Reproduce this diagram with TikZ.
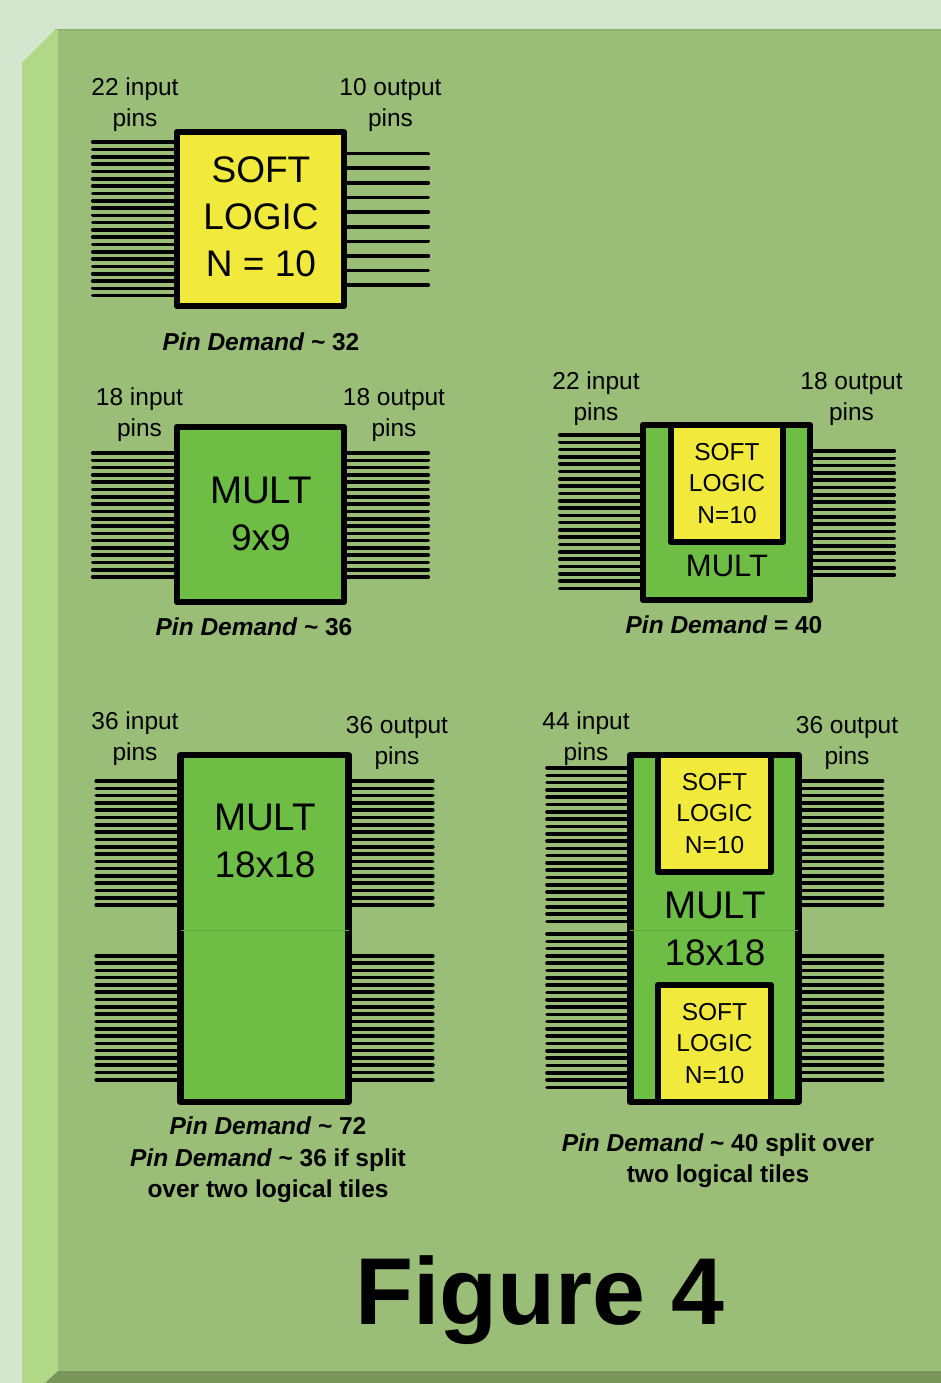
\documentclass[tikz,border=0pt]{standalone}
\usepackage{fontspec}
\setmainfont{Liberation Sans}
\definecolor{pageback}{HTML}{D2E7CD}
\definecolor{panelgreen}{HTML}{9ABE77}
\definecolor{panelleft}{HTML}{B1D886}
\definecolor{panelbottom}{HTML}{78955A}
\definecolor{paneltop}{HTML}{8FB36C}
\definecolor{multgreen}{HTML}{6EBE45}
\definecolor{softyellow}{HTML}{F1EA3C}
\definecolor{splitgreen}{HTML}{5EA53A}
\newcommand{\multword}{\fontsize{38.5}{47}\selectfont MULT}
\tikzset{
    blockbox/.style={draw=black, line width=6.6pt, line join=round, inner sep=0pt, align=center},
    softbig/.style={blockbox, fill=softyellow},
    softsmall/.style={blockbox, fill=softyellow, font=\fontsize{24.5}{31.5}\selectfont},
    multbox/.style={blockbox, fill=multgreen},
    bigtext/.style={inner sep=0pt, align=center, font=\fontsize{37}{47}\selectfont},
    pintext/.style={inner sep=0pt, align=center, font=\fontsize{24.5}{31}\selectfont},
    demandtext/.style={inner sep=0pt, align=center, font=\fontsize{24.5}{31.5}\selectfont\bfseries},
    pin/.style={line width=3.6pt, line cap=round, black},
    splitline/.style={line width=0.8pt, splitgreen, shorten <=3.3pt, shorten >=3.3pt}
}
\begin{document}
\begin{tikzpicture}[x=1pt, y=-1pt]
    \useasboundingbox (0, 0) rectangle (941, 1383);

    % 1. Background panel with its bevel
    \fill[pageback] (0, 0) rectangle (941, 1383);
    \fill[panelgreen] (58, 30) rectangle (941, 1371);
    \fill[paneltop] (55, 29) rectangle (941, 31);
    \fill[panelleft] (22, 63) -- (55, 30) -- (58, 30) -- (58, 1371) -- (45, 1383) -- (22, 1383) -- cycle;
    \fill[panelbottom] (45, 1383) -- (58, 1371) -- (941, 1371) -- (941, 1383) -- cycle;

    % 2. Soft logic block, N = 10
    \node[softbig, minimum width=167pt, minimum height=174pt] (softA) at (260.5, 219) {};
    \node[bigtext] (softAtext) at (261, 217) {SOFT\\LOGIC\\N = 10};
    \foreach \i in {0,...,21}
        \draw[pin] (softA.west |- 0,142.3+7.3*\i) -- ++(-81, 0);
    \foreach \i in {0,...,9}
        \draw[pin] (softA.east |- 0,153.7+14.6*\i) -- ++(81, 0);
    \node[pintext] (inA) at (135, 105) {22 input\\pins};
    \node[pintext] (outA) at (390.5, 105) {10 output\\pins};
    \node[demandtext] (demandA) at (261, 342) {\itshape Pin Demand {\upshape\textasciitilde{} 32}};

    % 3. Multiplier 9x9
    \node[multbox, minimum width=167pt, minimum height=175pt] (multB) at (260.5, 514.5) {};
    \node[bigtext] (multBtext) at (261, 513.5) {{\multword}\\9x9};
    \foreach \i in {0,...,17} {
        \draw[pin] (multB.west |- 0,453+7.3*\i) -- ++(-81, 0);
        \draw[pin] (multB.east |- 0,453+7.3*\i) -- ++(81, 0);
    }
    \node[pintext] (inB) at (139.5, 415) {18 input\\pins};
    \node[pintext] (outB) at (394, 415) {18 output\\pins};
    \node[demandtext] (demandB) at (254, 627) {\itshape Pin Demand {\upshape\textasciitilde{} 36}};

    % 4. Multiplier with soft logic inside
    \node[multbox, minimum width=167pt, minimum height=175pt] (multC) at (726.5, 512.5) {};
    \node[softsmall, minimum width=112pt, minimum height=117pt] (softC) at (727, 483.5) {SOFT\\LOGIC\\N=10};
    \node[pintext, font=\fontsize{31}{31}\selectfont] (multCtext) at (727, 566) {MULT};
    \foreach \i in {0,...,21}
        \draw[pin] (multC.west |- 0,435+7.3*\i) -- ++(-80, 0);
    \foreach \i in {0,...,17}
        \draw[pin] (multC.east |- 0,451+7.3*\i) -- ++(81, 0);
    \node[pintext] (inC) at (596, 399) {22 input\\pins};
    \node[pintext] (outC) at (851.5, 399) {18 output\\pins};
    \node[demandtext] (demandC) at (724, 625) {\itshape Pin Demand {\upshape = 40}};

    % 5. Multiplier 18x18
    \node[multbox, minimum width=168pt, minimum height=347pt] (multD) at (264.5, 928.5) {};
    \draw[splitline] (multD.west |- 0,930) -- (multD.east |- 0,930);
    \node[bigtext] (multDtext) at (265, 841) {{\multword}\\18x18};
    \foreach \i in {0,...,17} {
        \draw[pin] (multD.west |- 0,781+7.3*\i) -- ++(-81, 0);
        \draw[pin] (multD.east |- 0,781+7.3*\i) -- ++(81, 0);
        \draw[pin] (multD.west |- 0,955.7+7.3*\i) -- ++(-81, 0);
        \draw[pin] (multD.east |- 0,955.7+7.3*\i) -- ++(81, 0);
    }
    \node[pintext] (inD) at (135, 739) {36 input\\pins};
    \node[pintext] (outD) at (397, 743) {36 output\\pins};
    \node[demandtext] (demandD) at (268, 1160) {\itshape Pin Demand {\upshape\textasciitilde{} 72}\\
        \itshape Pin Demand {\upshape\textasciitilde{} 36 if split}\\over two logical tiles};

    % 6. Multiplier 18x18 with two soft logic blocks
    \node[multbox, minimum width=168pt, minimum height=347pt] (multE) at (714.3, 928.5) {};
    \draw[splitline] (multE.west |- 0,930) -- (multE.east |- 0,930);
    \node[softsmall, minimum width=113pt, minimum height=117pt] (softEtop) at (714.5, 813.5) {SOFT\\LOGIC\\N=10};
    \node[softsmall, minimum width=113pt, minimum height=117pt] (softEbot) at (714.5, 1043.5) {SOFT\\LOGIC\\N=10};
    \node[bigtext] (multEtext) at (715, 928.5) {{\multword}\\18x18};
    \foreach \i in {0,...,21} {
        \draw[pin] (multE.west |- 0,768+7.3*\i) -- ++(-80, 0);
        \draw[pin] (multE.west |- 0,934+7.3*\i) -- ++(-80, 0);
    }
    \foreach \i in {0,...,17} {
        \draw[pin] (multE.east |- 0,781+7.3*\i) -- ++(81, 0);
        \draw[pin] (multE.east |- 0,955.7+7.3*\i) -- ++(81, 0);
    }
    \node[pintext] (inE) at (586, 739) {44 input\\pins};
    \node[pintext] (outE) at (847, 743) {36 output\\pins};
    \node[demandtext] (demandE) at (718, 1160.5) {\itshape Pin Demand {\upshape\textasciitilde{} 40 split over}\\two logical tiles};

    % 7. Title
    \node[inner sep=0pt, font=\fontsize{95}{100}\selectfont\bfseries] (title) at (540, 1300.5) {Figure 4};

\end{tikzpicture}
\end{document}
